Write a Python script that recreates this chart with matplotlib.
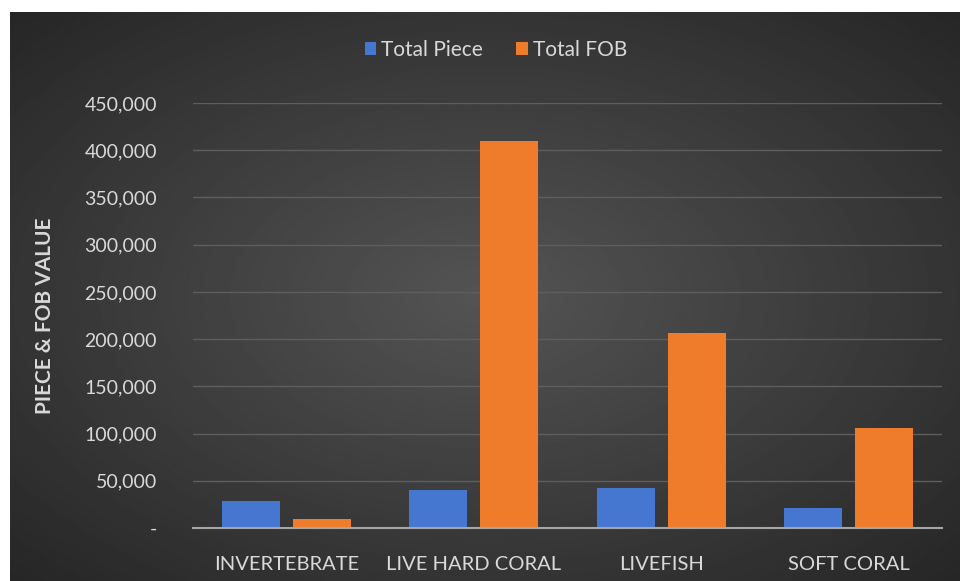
import matplotlib.pyplot as plt
import numpy as np
from matplotlib.ticker import FuncFormatter

categories = ["INVERTEBRATE", "LIVE HARD CORAL", "LIVEFISH", "SOFT CORAL"]
total_piece = [29000, 40000, 42000, 21000]
total_fob = [10000, 410000, 206000, 106000]
y_ticks = list(range(0, 450001, 50000))

BLUE = "#4576D0"
ORANGE = "#EE7C2B"
TEXT = "#D9D9D9"
FONT = ["Lato", "DejaVu Sans"]

plt.rcParams["font.family"] = FONT

fig = plt.figure(figsize=(9.6, 5.81), dpi=100)

# dark radial background panel
bg = fig.add_axes([10 / 960, 0, 950 / 960, 569 / 581])
bg.set_axis_off()
yy, xx = np.mgrid[-1:1:300j, -1:1:500j]
r = np.sqrt(xx**2 + yy**2) / np.sqrt(2)
bg.imshow(0.33 - 0.18 * r, cmap="gray", vmin=0, vmax=1, aspect="auto",
          extent=[0, 1, 0, 1], interpolation="bilinear")

ax = fig.add_axes([193 / 960, 1 - 528 / 581, 749 / 960, (528 - 103) / 581])
ax.patch.set_alpha(0)

x = np.arange(len(categories))
w = 0.31
ax.bar(x - 0.19, total_piece, w, color=BLUE, label="Total Piece", zorder=3)
ax.bar(x + 0.19, total_fob, w, color=ORANGE, label="Total FOB", zorder=3)

ax.set_xlim(-0.5, len(categories) - 0.5)
ax.set_ylim(0, 450000)
ax.set_yticks(y_ticks)
ax.yaxis.set_major_formatter(FuncFormatter(lambda v, p: "-" if v == 0 else f"{v:,.0f}"))
ax.set_xticks(x)
ax.set_xticklabels(categories)
ax.grid(axis="y", color="#5E5E5E", linewidth=1, zorder=0)
ax.tick_params(length=0, colors=TEXT, labelsize=14)
ax.tick_params(axis="x", labelsize=14.5, pad=20)
ax.tick_params(axis="y", pad=26)
for s in ["top", "right", "left"]:
    ax.spines[s].set_visible(False)
ax.spines["bottom"].set_color("#A6A6A6")
ax.spines["bottom"].set_linewidth(1.5)
ax.spines["bottom"].set_zorder(4)

fig.text(45 / 960, 1 - 316 / 581, "PIECE & FOB VALUE", rotation=90, color=TEXT,
         fontsize=15, fontweight="bold", ha="center", va="center")

leg = fig.legend(loc="center", bbox_to_anchor=(496 / 960, 1 - 50 / 581), ncol=2,
                 frameon=False, fontsize=15, labelcolor=TEXT, handlelength=0.55,
                 handleheight=0.55, handletextpad=0.25, columnspacing=1.6)

fig.savefig("out.png", dpi=100, facecolor="white")
